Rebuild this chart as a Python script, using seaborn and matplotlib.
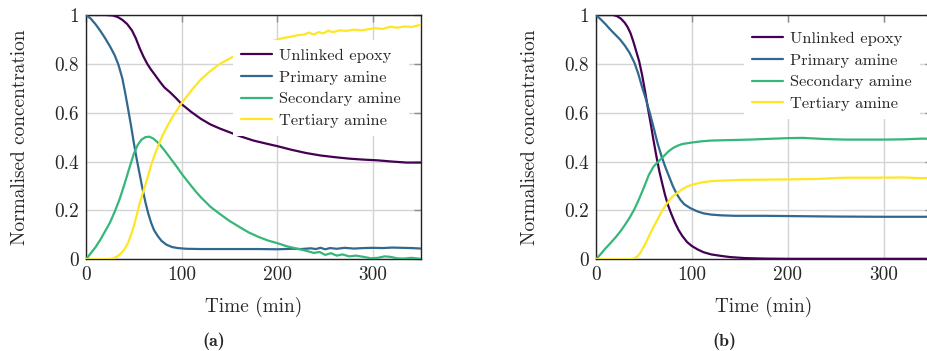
import numpy as np
import pandas as pd
import matplotlib
matplotlib.use("Agg")
import matplotlib.pyplot as plt
import seaborn as sns

# ---------------- data ----------------
series_names = ["Unlinked epoxy", "Primary amine", "Secondary amine", "Tertiary amine"]
series_colors = ["#440154", "#31688e", "#35b779", "#fde725"]

# Panel (a)
a_epoxy_t = [0, 20, 28, 33, 38, 43, 48, 52, 56, 60, 64, 68, 72, 77, 82, 88, 94, 100, 110, 120, 130,
             140, 150, 160, 175, 190, 200, 215, 230, 245, 260, 275, 290, 305, 320, 335, 350]
a_epoxy_c = [1.0, 1.0, 0.998, 0.992, 0.98, 0.963, 0.937, 0.905, 0.865, 0.83, 0.80, 0.776, 0.755, 0.728,
             0.703, 0.683, 0.66, 0.635, 0.603, 0.575, 0.552, 0.535, 0.52, 0.505, 0.486, 0.472, 0.463,
             0.448, 0.435, 0.425, 0.418, 0.412, 0.408, 0.405, 0.400, 0.396, 0.396]

a_primary_t = [0, 5, 10, 15, 20, 25, 30, 34, 38, 41, 44, 47, 50, 53, 56, 59, 62, 65, 68, 71, 75, 79, 84,
               90, 96, 105, 120, 140, 160, 180, 200, 215, 225, 235, 240, 245, 250, 255, 262, 270, 280,
               290, 300, 310, 320, 330, 340, 350]
a_primary_c = [1.0, 0.985, 0.962, 0.935, 0.905, 0.872, 0.835, 0.795, 0.74, 0.68, 0.615, 0.548, 0.476,
               0.41, 0.35, 0.29, 0.235, 0.188, 0.15, 0.12, 0.095, 0.075, 0.06, 0.05, 0.046, 0.043, 0.042,
               0.042, 0.042, 0.042, 0.041, 0.043, 0.042, 0.045, 0.042, 0.047, 0.041, 0.046, 0.043, 0.047,
               0.044, 0.046, 0.047, 0.046, 0.048, 0.047, 0.046, 0.044]

a_secondary_t = [0, 5, 10, 15, 20, 25, 30, 35, 40, 45, 50, 54, 58, 62, 66, 70, 74, 78, 82, 86, 90, 95,
                 100, 105, 110, 115, 120, 130, 140, 150, 160, 170, 180, 190, 200, 210, 220, 230, 238,
                 244, 250, 256, 262, 268, 275, 282, 290, 298, 305, 312, 318, 325, 332, 340, 345, 350]
a_secondary_c = [0.0, 0.025, 0.05, 0.08, 0.115, 0.15, 0.195, 0.245, 0.305, 0.37, 0.432, 0.468, 0.49,
                 0.5, 0.502, 0.495, 0.482, 0.465, 0.446, 0.425, 0.404, 0.378, 0.35, 0.325, 0.3, 0.276,
                 0.254, 0.215, 0.185, 0.157, 0.133, 0.11, 0.092, 0.077, 0.066, 0.053, 0.044, 0.035,
                 0.026, 0.03, 0.018, 0.025, 0.015, 0.02, 0.012, 0.015, 0.01, 0.004, 0.006, 0.012, 0.01,
                 0.004, 0.003, 0.006, 0.004, 0.002]

a_tertiary_t = [0, 20, 28, 32, 36, 40, 44, 48, 52, 56, 60, 64, 68, 72, 76, 80, 85, 90, 95, 100, 106, 112,
                119, 126, 133, 140, 147, 155, 165, 175, 185, 195, 205, 215, 222, 228, 233, 238, 243,
                248, 253, 258, 265, 272, 280, 288, 295, 302, 310, 318, 325, 333, 340, 350]
a_tertiary_c = [0.0, 0.0, 0.003, 0.01, 0.022, 0.04, 0.068, 0.11, 0.165, 0.228, 0.28, 0.33, 0.385, 0.43,
                0.47, 0.507, 0.545, 0.58, 0.61, 0.64, 0.67, 0.70, 0.732, 0.758, 0.78, 0.80, 0.815, 0.832,
                0.85, 0.866, 0.88, 0.893, 0.905, 0.912, 0.918, 0.92, 0.928, 0.92, 0.93, 0.925, 0.936,
                0.93, 0.937, 0.935, 0.94, 0.937, 0.942, 0.946, 0.943, 0.952, 0.948, 0.953, 0.951, 0.96]

# Panel (b)
b_epoxy_t = [0, 18, 22, 26, 30, 33, 36, 39, 42, 45, 48, 51, 54, 57, 60, 63, 66, 69, 72, 75, 78, 82, 86,
             90, 95, 100, 106, 112, 120, 130, 140, 155, 175, 200, 250, 300, 350]
b_epoxy_c = [1.0, 1.0, 0.995, 0.985, 0.968, 0.95, 0.925, 0.89, 0.85, 0.81, 0.755, 0.69, 0.62, 0.555,
             0.485, 0.42, 0.36, 0.31, 0.262, 0.222, 0.19, 0.152, 0.12, 0.095, 0.07, 0.054, 0.04, 0.029,
             0.02, 0.014, 0.009, 0.005, 0.003, 0.002, 0.002, 0.002, 0.002]

b_primary_t = [0, 5, 10, 15, 20, 25, 30, 35, 40, 44, 48, 52, 56, 60, 64, 68, 72, 76, 80, 84, 88, 92, 98,
               105, 112, 120, 130, 145, 175, 200, 250, 300, 350]
b_primary_c = [1.0, 0.982, 0.962, 0.94, 0.92, 0.90, 0.875, 0.845, 0.805, 0.76, 0.705, 0.655, 0.60, 0.54,
               0.477, 0.425, 0.38, 0.34, 0.30, 0.268, 0.243, 0.225, 0.21, 0.197, 0.188, 0.183, 0.18,
               0.178, 0.178, 0.177, 0.175, 0.174, 0.174]

b_secondary_t = [0, 5, 10, 15, 20, 25, 30, 35, 40, 45, 50, 55, 60, 65, 70, 75, 80, 85, 90, 100, 110, 120,
                 140, 160, 180, 200, 215, 240, 260, 280, 300, 320, 340, 350]
b_secondary_c = [0.0, 0.022, 0.045, 0.066, 0.088, 0.112, 0.14, 0.17, 0.205, 0.248, 0.295, 0.345, 0.38,
                 0.40, 0.42, 0.44, 0.455, 0.465, 0.472, 0.478, 0.483, 0.486, 0.488, 0.49, 0.493, 0.496,
                 0.497, 0.492, 0.49, 0.49, 0.49, 0.491, 0.494, 0.493]

b_tertiary_t = [0, 36, 40, 43, 46, 48, 51, 54, 57, 60, 64, 68, 72, 76, 80, 85, 90, 95, 100, 106, 112, 120,
                130, 150, 175, 200, 230, 260, 290, 320, 340, 350]
b_tertiary_c = [0.0, 0.0, 0.004, 0.012, 0.025, 0.04, 0.06, 0.085, 0.11, 0.133, 0.162, 0.193, 0.218,
                0.24, 0.258, 0.273, 0.287, 0.298, 0.305, 0.311, 0.316, 0.32, 0.322, 0.325, 0.326, 0.327,
                0.329, 0.334, 0.334, 0.335, 0.332, 0.334]

x_ticks = [0, 100, 200, 300]
x_tick_labels = ["0", "100", "200", "300"]
y_ticks = [0, 0.2, 0.4, 0.6, 0.8, 1.0]
y_tick_labels = ["0", "0.2", "0.4", "0.6", "0.8", "1"]
x_label = "Time (min)"
y_label = "Normalised concentration"
captions = ["(a)", "(b)"]

panels = [
    [(a_epoxy_t, a_epoxy_c), (a_primary_t, a_primary_c), (a_secondary_t, a_secondary_c), (a_tertiary_t, a_tertiary_c)],
    [(b_epoxy_t, b_epoxy_c), (b_primary_t, b_primary_c), (b_secondary_t, b_secondary_c), (b_tertiary_t, b_tertiary_c)],
]

# ---------------- style ----------------
sns.set_style("white")
plt.rcParams["font.family"] = ["cmr10", "DejaVu Serif"]
plt.rcParams["axes.formatter.use_mathtext"] = True
plt.rcParams["mathtext.fontset"] = "cm"

W, H = 928, 351
fig = plt.figure(figsize=(W / 100, H / 100), dpi=100)

ax_px = [(86, 421), (596, 932)]
top_px, bot_px = 15, 259.3
legend_anchor = [(233, 40), (744, 23)]
caption_x = [213.5, 724]

tick_fs = 13.9
legend_fs = 11.8

for i, (x0, x1) in enumerate(ax_px):
    ax = fig.add_axes([x0 / W, (H - bot_px) / H, (x1 - x0) / W, (bot_px - top_px) / H])
    for (t, c), name, col in zip(panels[i], series_names, series_colors):
        df = pd.DataFrame({"t": t, "c": c})
        sns.lineplot(data=df, x="t", y="c", ax=ax, color=col, lw=1.6, label=name, zorder=3)
    ax.set_xlim(0, 350)
    ax.set_ylim(0, 1)
    ax.set_xticks(x_ticks)
    ax.set_xticklabels(x_tick_labels)
    ax.set_yticks(y_ticks)
    ax.set_yticklabels(y_tick_labels)
    ax.grid(True, color="#d4d4d4", lw=1.0, zorder=0)
    ax.set_axisbelow(True)
    ax.tick_params(direction="in", length=5, width=1.0, color="#8c8c8c",
                   top=True, right=True, labelsize=tick_fs, pad=5)
    for s in ax.spines.values():
        s.set_color("#222222")
        s.set_linewidth(1.0)
    ax.set_xlabel(x_label, fontsize=tick_fs, labelpad=9)
    ax.set_ylabel(y_label, fontsize=tick_fs, labelpad=18)
    lx, ly = legend_anchor[i]
    leg = ax.legend(loc="upper left",
                    bbox_to_anchor=((lx - x0) / (x1 - x0), (bot_px - ly) / (bot_px - top_px)),
                    borderaxespad=0, frameon=True, fancybox=False, framealpha=1,
                    facecolor="white", edgecolor="none", fontsize=legend_fs,
                    handlelength=1.9, handletextpad=0.4, labelspacing=0.45, borderpad=0.5)
    leg.set_zorder(5)
    fig.text(caption_x[i] / W, 1 - 341.5 / H, captions[i], ha="center", va="center",
             fontsize=13, fontweight="bold", family=["cmb10", "DejaVu Serif"])

fig.savefig("out.png", dpi=100)
